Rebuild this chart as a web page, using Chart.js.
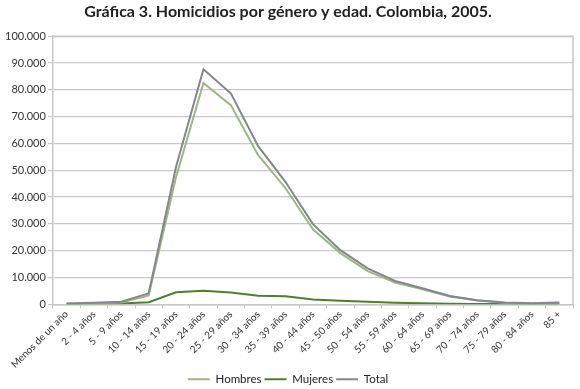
<!DOCTYPE html>
<html>
<head>
<meta charset="utf-8">
<script src="https://cdn.jsdelivr.net/npm/chart.js@4"></script>
<style>
  html, body { margin: 0; padding: 0; background: #fff; }
  #wrap { width: 580px; height: 389px; }
</style>
</head>
<body>
<div id="wrap"><canvas id="homicidios-chart"></canvas></div>
<script>
const categorias = ['Menos de un año', '2 - 4 años', '5 - 9 años', '10 - 14 años', '15 - 19 años',
    '20 - 24 años', '25 - 29 años', '30 - 34 años', '35 - 39 años', '40 - 44 años', '45 - 50 años',
    '50 - 54 años', '55 - 59 años', '60 - 64 años', '65 - 69 años', '70 - 74 años', '75 - 79 años',
    '80 - 84 años', '85 +'];
const hombres = [200, 400, 700, 3300, 47500, 82600, 74300, 55600, 43300, 28000, 19100, 12400, 8100, 5600, 2900, 1400, 600, 350, 600];
const mujeres = [100, 200, 300, 800, 4500, 5100, 4400, 3200, 3000, 1800, 1300, 1000, 600, 400, 250, 150, 100, 60, 100];
const total = [300, 600, 1000, 4100, 51300, 87700, 78700, 59000, 45600, 29900, 20200, 13400, 8700, 6000, 3100, 1500, 700, 400, 700];

const fuente = 'Lato, "Open Sans", sans-serif';

// marco gris alrededor del área de trazado (estilo Excel)
const marcoPlugin = {
    id: 'marco',
    afterDraw(chart) {
        const a = chart.chartArea;
        const c = chart.ctx;
        c.save();
        c.strokeStyle = '#c6c6c6';
        c.lineWidth = 1.5;
        c.beginPath();
        c.moveTo(a.left, a.top);
        c.lineTo(a.right, a.top);
        c.lineTo(a.right, a.bottom);
        c.stroke();
        c.restore();
    }
};

const ctx = document.getElementById('homicidios-chart');
new Chart(ctx.getContext('2d'), {
    type: 'line',
    data: {
        labels: categorias,
        datasets: [
            { label: 'Hombres', data: hombres, borderColor: '#9bb77f', borderWidth: 2, pointRadius: 0, tension: 0, fill: false, order: 2 },
            { label: 'Mujeres', data: mujeres, borderColor: '#4e7f2c', borderWidth: 2, pointRadius: 0, tension: 0, fill: false, order: 3 },
            { label: 'Total', data: total, borderColor: '#85858d', borderWidth: 2, pointRadius: 0, tension: 0, fill: false, order: 1 },
        ]
    },
    options: {
        responsive: true,
        maintainAspectRatio: false,
        animation: false,
        layout: { padding: { left: 3, right: 7, top: 0, bottom: -6 } },
        scales: {
            x: {
                offset: true,
                grid: { offset: true, drawOnChartArea: false, tickLength: 4, color: '#c6c6c6' },
                border: { color: '#c6c6c6', width: 1.5 },
                ticks: { autoSkip: false, maxRotation: 45, minRotation: 45, color: '#333', font: { family: fuente, size: 10 }, padding: 0 }
            },
            y: {
                min: 0, max: 100000,
                grid: { color: '#c9c9c9', lineWidth: 1.2, tickLength: 5 },
                border: { color: '#c6c6c6', width: 1.5 },
                ticks: {
                    stepSize: 10000, color: '#333', font: { family: fuente, size: 11 }, padding: 2,
                    callback: v => v.toLocaleString('de-DE')
                }
            }
        },
        plugins: {
            title: {
                display: true,
                text: 'Gráfica 3. Homicidios por género y edad. Colombia, 2005.',
                color: '#222',
                font: { family: fuente, size: 16, weight: 'bold' },
                padding: { top: 2, bottom: 15 }
            },
            legend: {
                position: 'bottom',
                labels: {
                    boxWidth: 22, boxHeight: 0, padding: 3, color: '#222',
                    font: { family: fuente, size: 11.5 },
                    sort: (a, b) => a.datasetIndex - b.datasetIndex
                }
            },
            tooltip: { enabled: false }
        }
    },
    plugins: [marcoPlugin]
});
</script>
</body>
</html>
